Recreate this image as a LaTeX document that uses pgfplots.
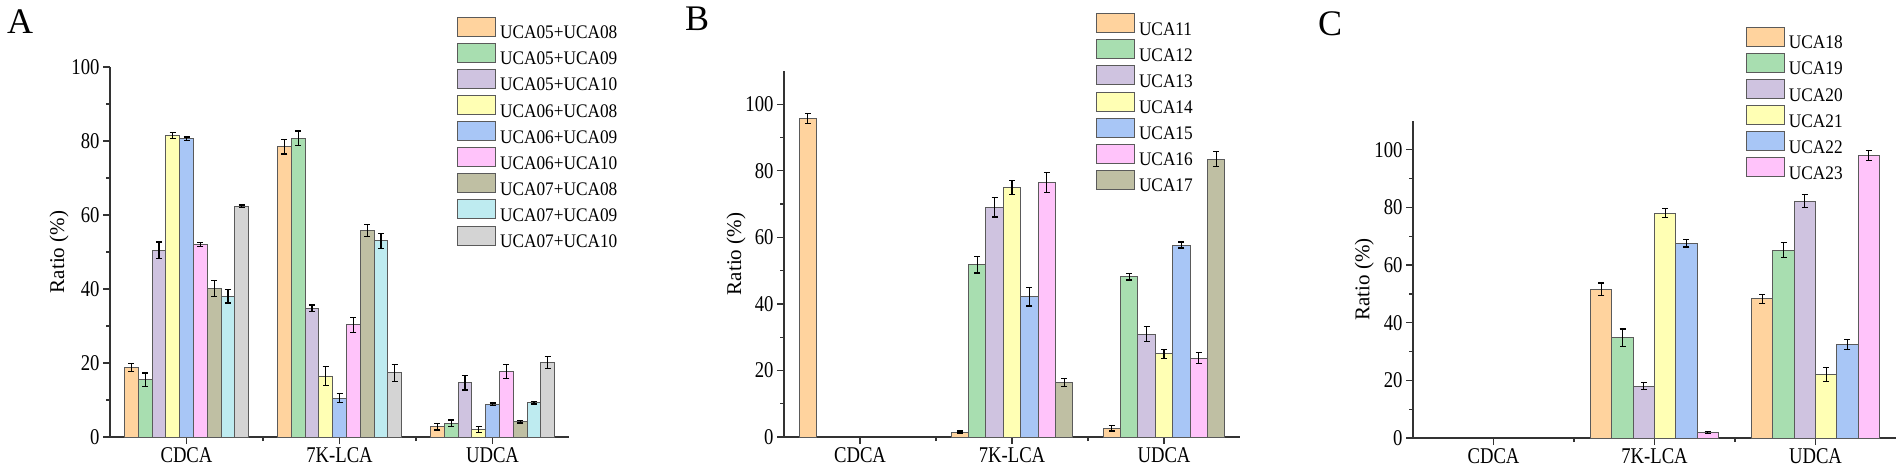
\documentclass[border=0pt]{standalone}
\usepackage{fontspec}
\setmainfont{Liberation Serif}
\newfontfamily\tickfont{Liberation Serif}[FakeStretch=0.83]
\newfontfamily\legfont{Liberation Serif}[FakeStretch=0.9]
\usepackage{pgfplots}
\pgfplotsset{compat=1.18}
\definecolor{c1}{HTML}{FFD39E}
\definecolor{c2}{HTML}{A8DEB0}
\definecolor{c3}{HTML}{CFC3E0}
\definecolor{c4}{HTML}{FFFFB4}
\definecolor{c5}{HTML}{A8C6F6}
\definecolor{c6}{HTML}{FFC3FA}
\definecolor{c7}{HTML}{BFBFA3}
\definecolor{c8}{HTML}{BEEBF0}
\definecolor{c9}{HTML}{D4D4D4}
\definecolor{axcol}{HTML}{333333}
\definecolor{barcol}{HTML}{5A5A5A}
\pgfplotsset{
 mybar/.style={
  ybar=0pt, scale only axis, axis lines=left,
  axis line style={-, line width=1.2pt, draw=axcol},
  tick align=outside, major tick length=7pt, minor tick length=4pt,
  xtick style={line width=1.2pt, draw=axcol},
  ytick style={line width=1.2pt, draw=axcol},
  xmin=-0.5, xmax=2.5, xtick={0,1,2}, xticklabels={CDCA,7K-LCA,UDCA}, minor xtick={0.5,1.5},
  ymin=0, ytick={0,20,...,100}, minor ytick={10,30,...,90},
  tick label style={font=\tickfont\fontsize{22.5}{26}\selectfont},
  /pgf/number format/assume math mode=true,
  ylabel={Ratio (\%)}, ylabel style={font=\fontsize{21}{24}\selectfont, anchor=center},
  legend style={draw=none, fill=none, inner sep=0pt, nodes={inner sep=0pt}, row sep=2.7pt, column sep=4pt, font=\legfont\fontsize{19.2}{21}\selectfont, anchor=north west},
  legend cell align=left,
  legend image code/.code={\draw[##1, draw=barcol, line width=0.9pt] (0pt,-3.2pt) rectangle (38pt,15.8pt);},
  every axis plot/.append style={draw=barcol, line width=0.9pt,
    /pgfplots/error bars/y dir=both, /pgfplots/error bars/y explicit,
    /pgfplots/error bars/error bar style={line width=1.2pt, black},
    /pgfplots/error bars/error mark options={rotate=90, mark size=3pt, line width=1.2pt, black}},
 }
}
\begin{document}
\begin{tikzpicture}
\useasboundingbox (0pt,0pt) rectangle (1902pt,472pt);
\node[font=\fontsize{36}{40}\selectfont] at (20pt,450pt) {A};
\node[font=\fontsize{36}{40}\selectfont] at (697pt,453pt) {B};
\node[font=\fontsize{36}{40}\selectfont] at (1330pt,448pt) {C};
% Panel A
\begin{axis}[mybar, at={(110pt,35pt)}, anchor=south west, width=459pt, height=370pt,
  ymax=100, bar width=13.8pt,
  ylabel style={at={(axis description cs:-0.111,0.5)}},
  legend style={at={(axis description cs:0.756,1.136)}}]
\addplot[fill=c1] coordinates {(0,18.8) +- (0,1.1) (1,78.5) +- (0,2.0) (2,2.8) +- (0,0.9)};
\addplot[fill=c2] coordinates {(0,15.5) +- (0,1.8) (1,80.7) +- (0,2.0) (2,3.7) +- (0,0.9)};
\addplot[fill=c3] coordinates {(0,50.5) +- (0,2.2) (1,34.8) +- (0,0.9) (2,14.7) +- (0,2.0)};
\addplot[fill=c4] coordinates {(0,81.5) +- (0,0.8) (1,16.5) +- (0,2.5) (2,2.1) +- (0,0.8)};
\addplot[fill=c5] coordinates {(0,80.6) +- (0,0.5) (1,10.5) +- (0,1.2) (2,8.9) +- (0,0.3)};
\addplot[fill=c6] coordinates {(0,52.0) +- (0,0.5) (1,30.3) +- (0,2.0) (2,17.7) +- (0,1.8)};
\addplot[fill=c7] coordinates {(0,40.2) +- (0,2.2) (1,55.8) +- (0,1.6) (2,4.1) +- (0,0.3)};
\addplot[fill=c8] coordinates {(0,38.0) +- (0,1.8) (1,53.0) +- (0,2.0) (2,9.3) +- (0,0.4)};
\addplot[fill=c9] coordinates {(0,62.4) +- (0,0.3) (1,17.4) +- (0,2.3) (2,20.1) +- (0,1.6)};
\legend{UCA05+UCA08,UCA05+UCA09,UCA05+UCA10,UCA06+UCA08,UCA06+UCA09,UCA06+UCA10,UCA07+UCA08,UCA07+UCA09,UCA07+UCA10}
\end{axis}
% Panel B
\begin{axis}[mybar, at={(784pt,35pt)}, anchor=south west, width=456pt, height=366pt,
  ymax=110, bar width=17.4pt,
  ylabel style={at={(axis description cs:-0.105,0.5)}},
  legend style={at={(axis description cs:0.684,1.158)}}]
\addplot[fill=c1] coordinates {(0,95.8) +- (0,1.5) (1,1.5) +- (0,0.3) (2,2.6) +- (0,0.8)};
\addplot[fill=c2] coordinates {(1,51.8) +- (0,2.5) (2,48.2) +- (0,1.0)};
\addplot[fill=c3] coordinates {(1,69.1) +- (0,3.0) (2,30.9) +- (0,2.2)};
\addplot[fill=c4] coordinates {(1,75.0) +- (0,2.0) (2,25.0) +- (0,1.3)};
\addplot[fill=c5] coordinates {(1,42.2) +- (0,2.8) (2,57.7) +- (0,0.9)};
\addplot[fill=c6] coordinates {(1,76.4) +- (0,3.0) (2,23.7) +- (0,1.6)};
\addplot[fill=c7] coordinates {(1,16.4) +- (0,1.2) (2,83.5) +- (0,2.2)};
\legend{UCA11,UCA12,UCA13,UCA14,UCA15,UCA16,UCA17}
\end{axis}
% Panel C
\begin{axis}[mybar, at={(1413pt,34pt)}, anchor=south west, width=483pt, height=317pt,
  ymax=110, bar width=21.3pt,
  ylabel style={at={(axis description cs:-0.101,0.5)}},
  legend style={at={(axis description cs:0.689,1.297)}}]
\addplot[fill=c1] coordinates {(1,51.6) +- (0,2.2) (2,48.3) +- (0,1.5)};
\addplot[fill=c2] coordinates {(1,34.8) +- (0,3.0) (2,65.2) +- (0,2.7)};
\addplot[fill=c3] coordinates {(1,18.0) +- (0,1.2) (2,82.2) +- (0,2.3)};
\addplot[fill=c4] coordinates {(1,78.0) +- (0,1.5) (2,22.1) +- (0,2.5)};
\addplot[fill=c5] coordinates {(1,67.6) +- (0,1.3) (2,32.4) +- (0,1.7)};
\addplot[fill=c6] coordinates {(1,1.9) +- (0,0.3) (2,98.0) +- (0,1.7)};
\legend{UCA18,UCA19,UCA20,UCA21,UCA22,UCA23}
\end{axis}
\end{tikzpicture}
\end{document}
